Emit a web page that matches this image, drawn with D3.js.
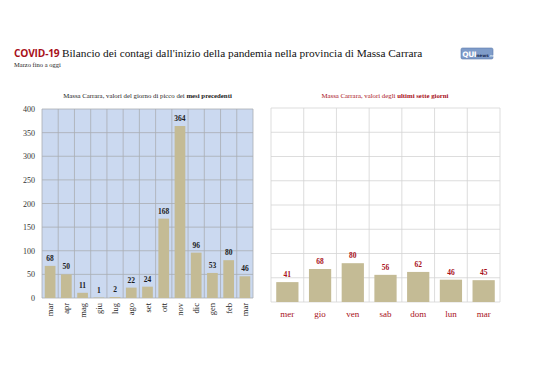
<!DOCTYPE html>
<html>
<head>
<meta charset="utf-8">
<script src="https://cdn.jsdelivr.net/npm/d3@7"></script>
<style>
  body { margin: 0; background: #fff; }
  svg text { font-family: "Liberation Serif", "DejaVu Serif", serif; }
</style>
</head>
<body>
<div id="chart"></div>
<script>
const monthLabels = ['mar', 'apr', 'mag', 'giu', 'lug', 'ago', 'set', 'ott', 'nov', 'dic', 'gen', 'feb', 'mar'];
const monthValues = [68, 50, 11, 1, 2, 22, 24, 168, 364, 96, 53, 80, 46];
const dayLabels = ['mer', 'gio', 'ven', 'sab', 'dom', 'lun', 'mar'];
const dayValues = [41, 68, 80, 56, 62, 46, 45];
const yTicks = [0, 50, 100, 150, 200, 250, 300, 350, 400];

const width = 538;
const height = 380;
const barColor = '#c4bb95';
const darkRed = '#a8101a';

const svg = d3.select('#chart')
    .append('svg')
    .attr('width', width)
    .attr('height', height);

// title
const title = svg.append('text')
    .attr('x', 14)
    .attr('y', 57)
    .attr('font-size', 11.3);
title.append('tspan')
    .style('font-family', '"Open Sans", sans-serif')
    .attr('font-weight', 'bold')
    .attr('font-size', 10.2)
    .attr('letter-spacing', -0.2)
    .attr('fill', darkRed)
    .text('COVID-19 ');
title.append('tspan')
    .attr('fill', '#111')
    .text("Bilancio dei contagi dall'inizio della pandemia nella provincia di Massa Carrara");

svg.append('text')
    .attr('x', 14)
    .attr('y', 67)
    .attr('font-size', 6.5)
    .attr('fill', '#222')
    .text('Marzo fino a oggi');

// logo
const logo = svg.append('g').attr('transform', 'translate(461,48)');
logo.append('rect')
    .attr('width', 32)
    .attr('height', 11)
    .attr('rx', 1.5)
    .attr('fill', '#7f9cc9')
    .attr('stroke', '#5d7bab')
    .attr('stroke-width', 0.6);
const logoText = logo.append('text')
    .attr('x', 1.2)
    .attr('y', 8.8)
    .style('font-family', '"DejaVu Sans", sans-serif')
    .attr('fill', '#fff');
logoText.append('tspan').attr('font-weight', 'bold').attr('font-size', 7.5).attr('letter-spacing', -0.4).text('QUI');
logoText.append('tspan').attr('font-weight', 'bold').attr('font-size', 4.3).attr('fill', '#1d2d55').text('news');
logoText.append('tspan').attr('font-size', 3.6).text('.net');

// ---------- left chart ----------
const L = { x0: 42, x1: 253, y0: 109, y1: 298 };

const xLeft = d3.scaleBand()
    .domain(d3.range(monthLabels.length))
    .range([L.x0, L.x1])
    .paddingInner(0.34)
    .paddingOuter(0.17);

const yLeft = d3.scaleLinear()
    .domain([0, 400])
    .range([L.y1, L.y0]);

svg.append('rect')
    .attr('x', L.x0)
    .attr('y', L.y0)
    .attr('width', L.x1 - L.x0)
    .attr('height', L.y1 - L.y0)
    .attr('fill', '#cbd9f0');

const leftGrid = svg.append('g')
    .attr('stroke', '#a9adb3')
    .attr('stroke-width', 0.8);
leftGrid.selectAll('line.h')
    .data(yTicks)
    .enter()
    .append('line')
    .attr('x1', L.x0)
    .attr('x2', L.x1)
    .attr('y1', d => yLeft(d))
    .attr('y2', d => yLeft(d));
leftGrid.selectAll('line.v')
    .data(d3.range(monthLabels.length + 1))
    .enter()
    .append('line')
    .attr('x1', i => L.x0 + i * xLeft.step())
    .attr('x2', i => L.x0 + i * xLeft.step())
    .attr('y1', L.y0)
    .attr('y2', L.y1);

const yAxisLeft = d3.axisLeft(yLeft)
    .tickValues(yTicks)
    .tickSize(0)
    .tickPadding(7);
svg.append('g')
    .attr('transform', 'translate(' + L.x0 + ',0)')
    .call(yAxisLeft)
    .call(g => g.select('.domain').remove())
    .call(g => g.selectAll('text')
        .attr('font-size', 8)
        .attr('fill', '#333')
        .style('font-family', '"Liberation Serif", serif'));

svg.append('g')
    .selectAll('rect')
    .data(monthValues)
    .enter()
    .append('rect')
    .attr('x', (d, i) => xLeft(i))
    .attr('y', d => yLeft(d))
    .attr('width', xLeft.bandwidth())
    .attr('height', d => L.y1 - yLeft(d))
    .attr('fill', barColor);

svg.append('g')
    .selectAll('text')
    .data(monthValues)
    .enter()
    .append('text')
    .attr('x', (d, i) => xLeft(i) + xLeft.bandwidth() / 2)
    .attr('y', d => yLeft(d) - 5)
    .attr('text-anchor', 'middle')
    .attr('font-size', 7.5)
    .attr('font-weight', 'bold')
    .attr('fill', '#1c1c22')
    .text(d => d);

svg.append('g')
    .selectAll('text')
    .data(monthLabels)
    .enter()
    .append('text')
    .attr('transform', (d, i) => 'translate(' + (xLeft(i) + xLeft.bandwidth() / 2 + 3) + ',' + (L.y1 + 5) + ') rotate(-90)')
    .attr('text-anchor', 'end')
    .attr('font-size', 8.5)
    .attr('fill', '#222')
    .text(d => d);

const leftSub = svg.append('text')
    .attr('x', (L.x0 + L.x1) / 2)
    .attr('y', 98)
    .attr('text-anchor', 'middle')
    .attr('font-size', 6.8)
    .attr('fill', '#222');
leftSub.append('tspan').text('Massa Carrara, valori del giorno di picco dei ');
leftSub.append('tspan').attr('font-weight', 'bold').text('mesi precedenti');

// ---------- right chart ----------
const R = { x0: 271, x1: 500, y0: 108, y1: 302 };

const xRight = d3.scaleBand()
    .domain(d3.range(dayLabels.length))
    .range([R.x0, R.x1])
    .paddingInner(0.32)
    .paddingOuter(0.16);

const yRight = d3.scaleLinear()
    .domain([0, 400])
    .range([R.y1, R.y0]);

const rightGrid = svg.append('g')
    .attr('stroke', '#d4d4d4')
    .attr('stroke-width', 0.8);
rightGrid.selectAll('line.h')
    .data(yTicks)
    .enter()
    .append('line')
    .attr('x1', R.x0)
    .attr('x2', R.x1)
    .attr('y1', d => yRight(d))
    .attr('y2', d => yRight(d));
rightGrid.selectAll('line.v')
    .data(d3.range(dayLabels.length + 1))
    .enter()
    .append('line')
    .attr('x1', i => R.x0 + i * xRight.step())
    .attr('x2', i => R.x0 + i * xRight.step())
    .attr('y1', R.y0)
    .attr('y2', R.y1);

svg.append('g')
    .selectAll('rect')
    .data(dayValues)
    .enter()
    .append('rect')
    .attr('x', (d, i) => xRight(i))
    .attr('y', d => yRight(d))
    .attr('width', xRight.bandwidth())
    .attr('height', d => R.y1 - yRight(d))
    .attr('fill', barColor);

svg.append('g')
    .selectAll('text')
    .data(dayValues)
    .enter()
    .append('text')
    .attr('x', (d, i) => xRight(i) + xRight.bandwidth() / 2)
    .attr('y', d => yRight(d) - 5)
    .attr('text-anchor', 'middle')
    .attr('font-size', 7.5)
    .attr('font-weight', 'bold')
    .attr('fill', darkRed)
    .text(d => d);

svg.append('g')
    .selectAll('text')
    .data(dayLabels)
    .enter()
    .append('text')
    .attr('x', (d, i) => xRight(i) + xRight.bandwidth() / 2)
    .attr('y', R.y1 + 15)
    .attr('text-anchor', 'middle')
    .attr('font-size', 9)
    .attr('fill', darkRed)
    .text(d => d);

const rightSub = svg.append('text')
    .attr('x', 385)
    .attr('y', 98)
    .attr('text-anchor', 'middle')
    .attr('font-size', 6.8)
    .attr('fill', darkRed);
rightSub.append('tspan').text('Massa Carrara, valori degli ');
rightSub.append('tspan').attr('font-weight', 'bold').text('ultimi sette giorni');
</script>
</body>
</html>
